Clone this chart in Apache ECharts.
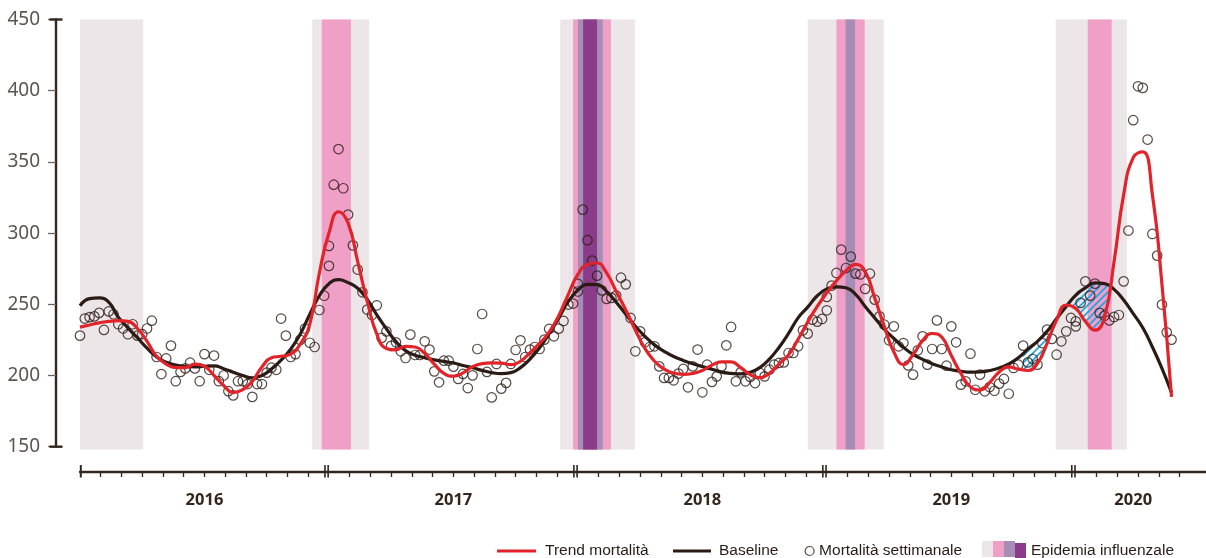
<!DOCTYPE html>
<html><head><meta charset="utf-8">
<script src="https://cdn.jsdelivr.net/npm/echarts@6/dist/echarts.min.js"></script>
<style>html,body{margin:0;padding:0;background:#fff}#c{width:1206px;height:558px}</style>
</head><body><div id="c"></div><script>
// ---------- DATA ----------
const years = ['2016', '2017', '2018', '2019', '2020'];
// weekly mortality (one point per week, 53 per year spanning the year)
const mort2016 = [228,240,241,241.5,244,232,245,243,236,233,229,236,228,229,233,238.5,213,201,212,221,196,202.5,205,209,205,196,215,204,214,196,200,189,186,196,196,194,185,194,194,202,205.5,204,240,228,213,215,225,233,223,220,246,256,277];
const mort2017 = [291,334,359,331.5,313,291.4,274.4,258.4,246.3,242.5,249.3,226.4,231,220.8,223.3,217,212.3,228.7,214.4,214.4,224,218.2,202.9,195.2,210.4,210.4,206.2,197.6,201.1,191.2,200.1,218.6,243.2,202.5,184.6,208.1,190.8,194.8,208.1,217.9,224.7,213,218.2,220,218.6,225.2,232.7,227.5,232.9,238.3,249.8,250.5,264.3];
const mort2018 = [259,316.5,295,280.7,270.1,259.8,253.8,254.5,256.1,268.7,264,240.4,217,231,223.3,220,220.5,206.4,198.3,198.3,196.6,201.3,204.6,191.7,206.4,218.2,188.2,207.6,195.5,199.4,206.4,221.2,234.1,195.9,202.2,195.9,199,194.7,201.8,199.4,204.1,207.6,208.8,209.2,215.8,215.8,220.5,231.7,229.4,239.2,237.8,239.7,245.8];
const mort2019 = [255.2,263.1,272,288.4,275.5,283.5,271.5,271,260.8,271.5,253.3,241.5,235.7,224.7,234.5,220.5,222.8,207.1,200.6,217.7,227.5,207.6,218.6,238.7,218.6,206.9,234.5,223.3,193.6,195.9,215.3,190,200.6,188.9,191.9,189.3,194.3,197.6,187.2,205.3,207.6,221,209.2,211.6,207.6,222.8,232.2,225.7,214.6,224,231,240.4,238];
const mort2020 = [234.5,251,266.1,256.1,264.5,244,242,238.7,241.1,242.5,266.1,301.8,379.3,403.1,402,365.7,299.4,284.2,249.8,230.3,225.2];
// smoothed curves sampled every 2 weeks from the first week of 2016
const trendMortalita = [234,235.5,237,238,238.5,238,233,224,213.5,208,205.5,205.5,208,206.5,200,193,188,190,196,206,212.5,213.5,215,222,236,272,300,315,307,280,252,229,219,218,220.5,220,215.5,208,201.5,199.5,201.8,206.2,208.3,208.8,208.7,207.6,210,216,222.5,230.5,242,257,271,278,279,272,259,246,232,219,210,204.5,201.7,200.8,201.5,203.5,207.3,209.5,209.5,205.5,200.6,198.5,201.5,208,214.5,225.5,237.5,248.5,258,266.5,273.5,278,273,254.5,234.5,216.5,207.7,214.6,224.5,229.5,227,214,201.5,192,189.8,195,202.5,206,204.5,203.5,208.5,222.6,239,249.5,247,238,231.8,241,280,327,353,357,327,264,185];
const baseline = [249,254,254.5,251.5,241,233.5,226.5,219.2,213,209.3,207.3,206.3,206,206.5,206.8,204.8,202.3,200,198.4,200,204.5,210.8,218.5,229,243,256,264.5,267.3,265.2,261.3,253.5,242.5,232.8,223.8,217.5,214.3,212.5,211,209.9,208.8,207,205.4,203.6,202,201.3,202,205.5,211.5,219.5,229.5,240.5,252,260,264,263.8,259,251.5,243,234.6,227.5,221.5,217,213.3,210.6,208.3,206.3,204.4,202.4,201.5,201.1,202.2,205.5,211.5,219.7,229.5,240.5,248,256,260.8,262.3,261.6,257,248.5,240.4,232.5,226,219.8,214.8,211.3,208.3,206,204,203,202.3,202.5,203.5,205.3,208.2,212.5,218.5,224,231,240,248.5,256.5,261.5,265,264.5,260.5,253,243.5,233.5,220,205,188];
// flu-season bands [startWeek, endWeek] (weeks counted from first week of 2016)
const bandSeason = [[0,13.2],[48.5,60.4],[100.3,115.9],[152,167.9],[203.8,218.7]];
const bandLow = [[50.5,56.6],[103,110.9],[158,163.9],[210.5,215.5]];
const bandMid = [[104,109.2],[159.9,161.9]];
const bandHigh = [[105.1,108]];
const hatchRange = [197, 215.5];
const yearStartWeek = [0, 51.5, 103.5, 155.5, 207.5];
const yearLabelWeek = [26, 78, 130, 182, 220];
const yTicks = [150, 200, 250, 300, 350, 400, 450];

// ---------- BUILD ----------
const WPY = 52, STEP = 2, XMAX = 235.2;
const scatterData = [];
[mort2016, mort2017, mort2018, mort2019, mort2020].forEach((arr, yi) =>
  arr.forEach((v, j) => scatterData.push([yi * WPY + j, v])));
const trendData = trendMortalita.map((v, k) => [k * STEP, v]);
const baseData = baseline.map((v, k) => [k * STEP, v]);
const monthTicks = [];
for (let m = 1; m <= 53; m++) if (m % 12) monthTicks.push(m * WPY / 12);

const C = {grey:'#ece6e9', pink:'#f0a0c7', lilac:'#a68db6', purple:'#8a3b89',
  red:'#e2242a', black:'#2a1c15', axis:'#33261e', label:'#5a5552', hatch:'#1ba8e0'};

// hatch pattern
const pc = document.createElement('canvas'); pc.width = 7; pc.height = 7;
const g = pc.getContext('2d'); g.strokeStyle = C.hatch; g.lineWidth = 1.7;
g.beginPath(); g.moveTo(-1,8); g.lineTo(8,-1); g.moveTo(-1,1); g.lineTo(1,-1); g.moveTo(6,8); g.lineTo(8,6); g.stroke();

function interp(arr, pos) {
  const f = pos / STEP, i = Math.floor(f), t = f - i;
  if (i >= arr.length - 1) return arr[arr.length - 1];
  return arr[i] * (1 - t) + arr[i + 1] * t;
}

function band(name, color, data) {
  return {
    type: 'custom', name, z: 1, silent: true, clip: false,
    itemStyle: {color}, encode: {x: [0, 1]}, data,
    renderItem(p, api) {
      const a = api.coord([api.value(0), 450]);
      const b = api.coord([api.value(1), 148]);
      return {type: 'rect', shape: {x: a[0], y: a[1], width: b[0] - a[0], height: b[1] - a[1]}, style: {fill: color}};
    }
  };
}

const font = '"Liberation Sans",Arial,sans-serif';
const legendText = {fontFamily: font, fontSize: 15.5, color: '#2a1c15', lineHeight: 20};
function lg(name, left, w, h, extra, icon) {
  return Object.assign({
    data: [icon ? {name, icon} : {name}], left, top: 541, itemWidth: w, itemHeight: h, padding: 0,
    selectedMode: false, textStyle: Object.assign({}, legendText)
  }, extra || {});
}

const chart = echarts.init(document.getElementById('c'), null, {renderer: 'canvas'});
chart.setOption({
  animation: false,
  grid: [
    {left: 80, right: 0, top: 19.5, bottom: 111.3},
    {left: 80, right: 0, top: 465, bottom: 80.5}
  ],
  xAxis: [
    {gridIndex: 0, type: 'value', min: 0, max: XMAX, show: false},
    {gridIndex: 1, type: 'value', min: 0, max: XMAX, position: 'bottom', offset: -6,
      axisLine: {show: true, onZero: false, lineStyle: {color: C.axis, width: 2.3}},
      axisTick: {show: true, length: 5.5, customValues: monthTicks, lineStyle: {color: C.axis, width: 1.3}},
      splitLine: {show: false},
      axisLabel: {show: true, customValues: yearLabelWeek, margin: 20,
        formatter: v => years[yearLabelWeek.indexOf(v)] || '',
        fontFamily: '"Noto Sans",sans-serif', fontWeight: 'bold', fontSize: 16.5, color: '#35261d'}}
  ],
  yAxis: [
    {gridIndex: 0, type: 'value', min: 150, max: 450, interval: 50, offset: 24,
      axisLine: {show: true, onZero: false, lineStyle: {color: C.axis, width: 2.4},
        symbol: ['rect', 'rect'], symbolSize: [13, 2.4]},
      axisTick: {show: true, length: 8, lineStyle: {color: '#6d6562', width: 1.3}},
      splitLine: {show: false},
      axisLabel: {margin: 16, fontFamily: '"Noto Sans",sans-serif', fontSize: 19, color: C.label,
        customValues: yTicks}},
    {gridIndex: 1, type: 'value', min: 0, max: 1, show: false}
  ],
  legend: [
    lg('Trend mortalità', 497, 39, 3, {textStyle: Object.assign({}, legendText, {padding: [0,0,0,4]})}, 'rect'),
    lg('Baseline', 673, 38, 3, {textStyle: Object.assign({}, legendText, {padding: [0,0,0,3]})}, 'rect'),
    lg('Mortalità settimanale', 804.5, 9, 9, {itemStyle: {color: '#fff', borderColor: C.black, borderWidth: 1.2}}, 'circle'),
    lg('Stagione', 982, 11, 16, {formatter: () => ''}, 'rect'),
    lg('Intensità bassa', 993, 11, 16, {formatter: () => ''}, 'rect'),
    lg('Intensità media', 1004, 11, 16, {formatter: () => ''}, 'rect'),
    lg('Epidemia influenzale', 1015, 11, 16, null, 'rect')
  ],
  series: [
    band('Stagione', C.grey, bandSeason),
    band('Intensità bassa', C.pink, bandLow),
    band('Intensità media', C.lilac, bandMid),
    band('Epidemia influenzale', C.purple, bandHigh),
    {
      type: 'custom', name: 'deficit', z: 3, silent: true, clip: false,
      encode: {x: [0, 1]}, data: [hatchRange],
      renderItem(p, api) {
        const s = api.value(0), e = api.value(1);
        const top = [], bot = [];
        for (let x = s; x <= e + 1e-6; x += 0.25) {
          const b = interp(baseline, x), t = Math.min(interp(trendMortalita, x), b);
          top.push(api.coord([x, b])); bot.push(api.coord([x, t]));
        }
        return {type: 'polygon', shape: {points: top.concat(bot.reverse())},
          style: {fill: {image: pc, repeat: 'repeat'}, stroke: null}};
      }
    },
    {
      type: 'custom', name: 'yearMarks', xAxisIndex: 1, yAxisIndex: 1, z: 5, silent: true, clip: false,
      encode: {x: 0}, data: yearStartWeek.map(v => [v]),
      renderItem(p, api) {
        const a = api.coord([api.value(0), 1]), b = api.coord([api.value(0), 0]);
        const st = {stroke: C.axis, lineWidth: 1.6};
        if (p.dataIndex === 0) {
          return {type: 'line', shape: {x1: a[0] + 0.8, y1: a[1], x2: a[0] + 0.8, y2: b[1]}, style: {stroke: C.axis, lineWidth: 2}};
        }
        return {type: 'group', children: [
          {type: 'line', shape: {x1: a[0] - 1.6, y1: a[1], x2: a[0] - 1.6, y2: b[1]}, style: st},
          {type: 'line', shape: {x1: a[0] + 1.6, y1: a[1], x2: a[0] + 1.6, y2: b[1]}, style: st}
        ]};
      }
    },
    {
      type: 'scatter', name: 'Mortalità settimanale', z: 4, data: scatterData,
      symbol: 'circle', symbolSize: 9.5,
      itemStyle: {color: 'rgba(255,255,255,0)', borderColor: C.black, borderWidth: 1.2}
    },
    {
      type: 'line', name: 'Baseline', z: 5, data: baseData, smooth: true, showSymbol: false, symbol: 'none',
      itemStyle: {color: C.black}, lineStyle: {color: C.black, width: 3.2}
    },
    {
      type: 'line', name: 'Trend mortalità', z: 6, data: trendData, smooth: true, showSymbol: false, symbol: 'none',
      itemStyle: {color: C.red}, lineStyle: {color: C.red, width: 3.2}
    }
  ]
});
</script></body></html>
